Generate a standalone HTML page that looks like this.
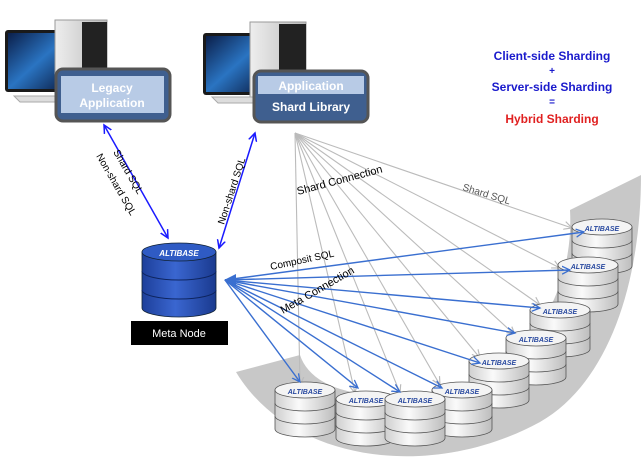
<!DOCTYPE html>
<html><head><meta charset="utf-8"><style>
html,body{margin:0;padding:0;background:#fff;}
svg{display:block;font-family:"Liberation Sans",sans-serif;}
</style></head><body>
<svg width="641" height="472" viewBox="0 0 641 472" xmlns="http://www.w3.org/2000/svg">
<defs>
<marker id="ab" markerWidth="10" markerHeight="10" refX="8" refY="5" orient="auto-start-reverse" markerUnits="userSpaceOnUse"><path d="M0,1 L8,5 L0,9" fill="none" stroke="#1a1aff" stroke-width="1.5"/></marker>
<marker id="al" markerWidth="10" markerHeight="10" refX="8" refY="5" orient="auto" markerUnits="userSpaceOnUse"><path d="M0,1 L8,5 L0,9" fill="none" stroke="#3a6fd0" stroke-width="1.3"/></marker>
<marker id="ag" markerWidth="10" markerHeight="10" refX="8" refY="5" orient="auto" markerUnits="userSpaceOnUse"><path d="M0,1 L8,5 L0,9" fill="none" stroke="#bbb" stroke-width="1.2"/></marker>
<linearGradient id="cg" x1="0" x2="1"><stop offset="0" stop-color="#cfcfcf"/><stop offset="0.4" stop-color="#fafafa"/><stop offset="1" stop-color="#bdbdbd"/></linearGradient>
<linearGradient id="bg" x1="0" x2="1"><stop offset="0" stop-color="#1d3f9a"/><stop offset="0.45" stop-color="#3a66d0"/><stop offset="1" stop-color="#1a3a8f"/></linearGradient>
<linearGradient id="scr" x1="0" y1="0" x2="1" y2="1"><stop offset="0" stop-color="#0b1f4a"/><stop offset="0.5" stop-color="#2a74c2"/><stop offset="1" stop-color="#0a1a40"/></linearGradient>
<linearGradient id="tw" x1="0" x2="1"><stop offset="0" stop-color="#eee"/><stop offset="1" stop-color="#bbb"/></linearGradient>
<g id="cyl">
<path d="M0,8 L0,47 A30,8 0 0 0 60,47 L60,8 Z" fill="url(#cg)" stroke="#555" stroke-width="0.8"/>
<path d="M0,21 A30,8 0 0 0 60,21 M0,34 A30,8 0 0 0 60,34" fill="none" stroke="#555" stroke-width="0.8"/>
<ellipse cx="30" cy="8" rx="30" ry="8" fill="#f4f4f4" stroke="#555" stroke-width="0.8"/>
</g>
</defs>

<!-- gray band -->
<path d="M236,372 C290,462 430,482 540,422 C610,382 641,280 641,175 L570,210 C575,300 520,385 420,395 C350,400 310,385 300,355 Z" fill="#c8c8c8"/>

<!-- computers -->
<g>
<rect x="5" y="30" width="68" height="62" rx="3" fill="#1a1a1a"/>
<rect x="8" y="33" width="62" height="56" fill="url(#scr)"/>
<rect x="55" y="20" width="52" height="78" fill="url(#tw)" stroke="#999"/>
<rect x="82" y="22" width="25" height="76" fill="#222"/>
<path d="M14,96 L60,96 L66,102 L20,102 Z" fill="#ddd" stroke="#aaa"/>
</g>
<g>
<rect x="203" y="33" width="68" height="62" rx="3" fill="#1a1a1a"/>
<rect x="206" y="36" width="62" height="56" fill="url(#scr)"/>
<rect x="250" y="22" width="56" height="76" fill="url(#tw)" stroke="#999"/>
<rect x="279" y="24" width="27" height="74" fill="#222"/>
<path d="M212,97 L258,97 L264,103 L218,103 Z" fill="#ddd" stroke="#aaa"/>
</g>
<rect x="56" y="69" width="114" height="52" rx="7" fill="#3f5f8f" stroke="#555" stroke-width="3"/>
<rect x="61" y="76" width="103" height="37" fill="#b8cbe6"/>
<text x="112" y="92" font-size="12" font-weight="bold" fill="#fff" text-anchor="middle">Legacy</text>
<text x="112" y="107" font-size="12" font-weight="bold" fill="#fff" text-anchor="middle">Application</text>
<rect x="254" y="71" width="114" height="51" rx="7" fill="#3f5f8f" stroke="#555" stroke-width="3"/>
<rect x="258" y="76" width="106" height="18" fill="#b8cbe6"/>
<text x="311" y="90" font-size="12" font-weight="bold" fill="#fff" text-anchor="middle">Application</text>
<text x="311" y="111" font-size="12" font-weight="bold" fill="#fff" text-anchor="middle">Shard Library</text>

<!-- right text -->
<g font-size="12" font-weight="bold" text-anchor="middle">
<text x="552" y="60" fill="#1a1acc">Client-side Sharding</text>
<text x="552" y="74" fill="#1a1acc" font-size="10">+</text>
<text x="552" y="91" fill="#1a1acc">Server-side Sharding</text>
<text x="552" y="105" fill="#1a1acc" font-size="10">=</text>
<text x="552" y="123" fill="#e02020">Hybrid Sharding</text>
</g>

<!-- gray shard lines -->
<g stroke="#bbb" stroke-width="1.1" fill="none" marker-end="url(#ag)">
<line x1="295" y1="133" x2="572" y2="228"/>
<line x1="295" y1="133" x2="560" y2="268"/>
<line x1="295" y1="133" x2="540" y2="305"/>
<line x1="295" y1="133" x2="515" y2="335"/>
<line x1="295" y1="133" x2="480" y2="358"/>
<line x1="295" y1="133" x2="440" y2="385"/>
<line x1="295" y1="133" x2="400" y2="393"/>
<line x1="295" y1="133" x2="355" y2="393"/>
<line x1="295" y1="133" x2="300" y2="385"/>
</g>

<!-- shard cylinders -->
<g font-size="7" font-weight="bold" font-style="italic" fill="#2a4aa0" text-anchor="middle">
<use href="#cyl" x="572" y="219"/><text x="602" y="231">ALTIBASE</text>
<use href="#cyl" x="558" y="257"/><text x="588" y="269">ALTIBASE</text>
<use href="#cyl" x="530" y="302"/><text x="560" y="314">ALTIBASE</text>
<use href="#cyl" x="506" y="330"/><text x="536" y="342">ALTIBASE</text>
<use href="#cyl" x="469" y="353"/><text x="499" y="365">ALTIBASE</text>
<use href="#cyl" x="432" y="382"/><text x="462" y="394">ALTIBASE</text>
<use href="#cyl" x="275" y="382"/><text x="305" y="394">ALTIBASE</text>
<use href="#cyl" x="336" y="391"/><text x="366" y="403">ALTIBASE</text>
<use href="#cyl" x="385" y="391"/><text x="415" y="403">ALTIBASE</text>
</g>

<!-- blue meta lines -->
<g stroke="#3a6fd0" stroke-width="1.4" fill="none" marker-end="url(#al)">
<line x1="225" y1="280" x2="584" y2="232"/>
<line x1="225" y1="280" x2="570" y2="270"/>
<line x1="225" y1="280" x2="540" y2="308"/>
<line x1="225" y1="280" x2="515" y2="333"/>
<line x1="225" y1="280" x2="480" y2="363"/>
<line x1="225" y1="280" x2="442" y2="388"/>
<line x1="225" y1="280" x2="400" y2="392"/>
<line x1="225" y1="280" x2="358" y2="388"/>
<line x1="225" y1="280" x2="300" y2="382"/>
</g>
<path d="M236,274 L224,280 L236,287 Z" fill="#3a6fd0"/>

<!-- meta node -->
<path d="M142,252 L142,308 A37,9 0 0 0 216,308 L216,252 Z" fill="url(#bg)" stroke="#123" stroke-width="0.8"/>
<path d="M142,271 A37,9 0 0 0 216,271 M142,290 A37,9 0 0 0 216,290" fill="none" stroke="#0e2560" stroke-width="1"/>
<ellipse cx="179" cy="252" rx="37" ry="9" fill="#2f5bc4" stroke="#123" stroke-width="0.8"/>
<text x="179" y="256" font-size="8" font-weight="bold" font-style="italic" fill="#fff" text-anchor="middle">ALTIBASE</text>
<rect x="131" y="321" width="97" height="24" fill="#000"/>
<text x="179" y="337" font-size="11" fill="#fff" text-anchor="middle">Meta Node</text>

<!-- client arrows -->
<line x1="104" y1="125" x2="168" y2="238" stroke="#1a1aff" stroke-width="1.5" marker-end="url(#ab)" marker-start="url(#ab)"/>
<line x1="255" y1="133" x2="219" y2="248" stroke="#1a1aff" stroke-width="1.5" marker-end="url(#ab)" marker-start="url(#ab)"/>
<text transform="translate(113,152) rotate(60)" font-size="10" fill="#000">Shard SQL</text>
<text transform="translate(96,156) rotate(60)" font-size="10" fill="#000">Non-shard SQL</text>
<text transform="translate(224,225) rotate(-72)" font-size="10" fill="#000">Non-shard SQL</text>

<text transform="translate(298,195) rotate(-15)" font-size="11" fill="#000">Shard Connection</text>
<text transform="translate(462,190) rotate(17)" font-size="10" fill="#555">Shard SQL</text>
<text transform="translate(271,270) rotate(-12)" font-size="10" fill="#000">Composit SQL</text>
<text transform="translate(283,314) rotate(-30)" font-size="11" fill="#000">Meta Connection</text>
</svg>
</body></html>
